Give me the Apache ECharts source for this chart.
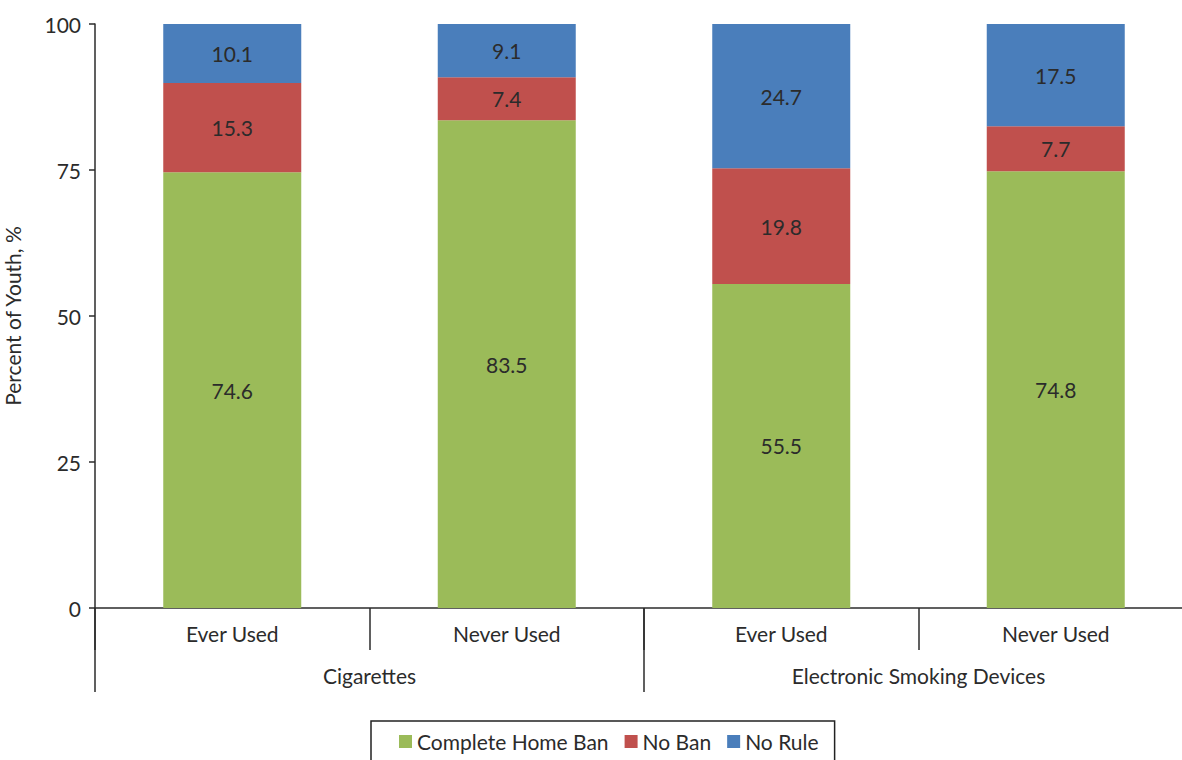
<!DOCTYPE html>
<html>
<head>
<meta charset="utf-8">
<script src="https://cdn.jsdelivr.net/npm/echarts@6/dist/echarts.min.js"></script>
<style>
  html, body { margin: 0; padding: 0; background: #fff; }
  #main { width: 1182px; height: 760px; }
</style>
</head>
<body>
<div id="main"></div>
<script>
// categories (inner level) and groups (outer level)
const categories = ['Ever Used', 'Never Used', 'Ever Used', 'Never Used'];
const groups = ['Cigarettes', 'Electronic Smoking Devices'];

// percent of youth
const completeHomeBan = [74.6, 83.5, 55.5, 74.8];
const noBan = [15.3, 7.4, 19.8, 7.7];
const noRule = [10.1, 9.1, 24.7, 17.5];

const yTicks = [0, 25, 50, 75, 100];

const font = 'Lato, "Noto Sans", sans-serif';
const ink = '#2b2b2b';
const fs = 21;

const chart = echarts.init(document.getElementById('main'), null, {renderer: 'svg'});

function barSeries(name, data, color) {
    return {
        name: name,
        type: 'bar',
        stack: 'total',
        barWidth: 138,
        data: data,
        itemStyle: {color: color},
        label: {
            show: true,
            position: 'inside',
            color: ink,
            fontSize: fs,
            fontFamily: font,
            formatter: (p) => p.value.toFixed(1)
        },
        emphasis: {disabled: true}
    };
}

chart.setOption({
    animation: false,
    textStyle: {fontFamily: font},
    grid: {
        left: 95, top: 24, width: 1098, height: 584,
        containLabel: false, outerBoundsMode: 'none'
    },
    legend: {
        left: 371, top: 721,
        padding: [10, 16, 10, 28],
        itemGap: 16,
        itemWidth: 13, itemHeight: 13,
        icon: 'rect',
        borderColor: '#222', borderWidth: 1.5,
        textStyle: {fontSize: fs, color: ink, fontFamily: font},
        data: ['Complete Home Ban', 'No Ban', 'No Rule']
    },
    xAxis: [
        {
            type: 'category',
            data: categories,
            position: 'bottom',
            axisLine: {lineStyle: {color: ink, width: 1.5}},
            axisTick: {show: true, length: 42, interval: 0, lineStyle: {color: ink, width: 1.5}},
            axisLabel: {margin: 15, fontSize: fs, color: ink, fontFamily: font, interval: 0}
        },
        {
            type: 'category',
            data: groups,
            position: 'bottom',
            offset: 0,
            axisLine: {show: false},
            axisTick: {show: true, length: 84, interval: 0, lineStyle: {color: ink, width: 1.5}},
            axisLabel: {margin: 57, fontSize: fs, color: ink, fontFamily: font, interval: 0}
        }
    ],
    yAxis: {
        type: 'value',
        min: yTicks[0],
        max: yTicks[yTicks.length - 1],
        interval: 25,
        name: 'Percent of Youth, %',
        nameLocation: 'middle',
        nameGap: 72,
        nameTextStyle: {fontSize: fs, color: ink, fontFamily: font},
        axisLine: {show: true, lineStyle: {color: ink, width: 1.5}},
        axisTick: {show: true, inside: false, length: 6, lineStyle: {color: ink, width: 1.5}},
        axisLabel: {margin: 14, fontSize: fs, color: ink, fontFamily: font},
        splitLine: {show: false}
    },
    series: [
        barSeries('Complete Home Ban', completeHomeBan, '#9BBB59'),
        barSeries('No Ban', noBan, '#C0504D'),
        barSeries('No Rule', noRule, '#4A7EBB')
    ]
});
</script>
</body>
</html>
